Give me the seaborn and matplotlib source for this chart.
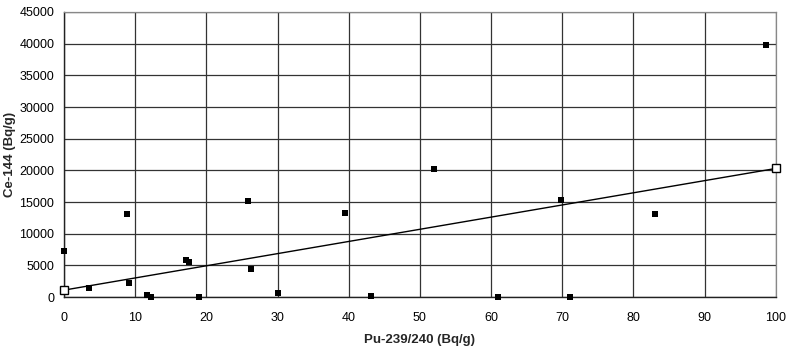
import matplotlib
matplotlib.use("Agg")
import matplotlib.pyplot as plt
import numpy as np
import pandas as pd
import seaborn as sns

# measured points
pu = [0, 3.5, 8.8, 9.1, 11.6, 12.2, 17.2, 17.6, 18.9, 25.8, 26.3, 30.0,
      39.5, 43.1, 52.0, 61.0, 69.8, 71.1, 83.0, 98.6]
ce = [7200, 1500, 13100, 2200, 350, 50, 5800, 5500, 50, 15200, 4500, 650,
      13300, 250, 20200, 0, 15400, 0, 13100, 39800]

# trend line end points
trend_x = [0, 100]
trend_y = [1100, 20300]

x_ticks = list(range(0, 101, 10))
y_ticks = list(range(0, 45001, 5000))

df = pd.DataFrame({"Pu": pu, "Ce": ce})
trend = pd.DataFrame({"Pu": trend_x, "Ce": trend_y})

sns.set_style("white")
plt.rcParams["font.family"] = ["Liberation Sans", "DejaVu Sans"]

fig = plt.figure(figsize=(7.9, 3.52), dpi=100)
ax = fig.add_axes([0.081, 0.156, 0.901, 0.81])

sns.lineplot(x="Pu", y="Ce", data=trend, ax=ax, color="black", linewidth=1.0,
             marker="s", markersize=5.5, markerfacecolor="white",
             markeredgecolor="black", markeredgewidth=1.0, zorder=3,
             clip_on=False)
sns.scatterplot(x="Pu", y="Ce", data=df, ax=ax, marker="s", s=18,
                color="black", edgecolor="black", linewidth=0, zorder=4,
                clip_on=False)

ax.set_xlim(0, 100)
ax.set_ylim(0, 45000)
ax.set_xticks(x_ticks)
ax.set_yticks(y_ticks)
ax.grid(True, color="#333333", linewidth=0.9)
ax.set_axisbelow(True)

for side in ["top", "right"]:
    ax.spines[side].set_color("#888888")
    ax.spines[side].set_linewidth(0.9)
for side in ["left", "bottom"]:
    ax.spines[side].set_color("#222222")
    ax.spines[side].set_linewidth(1.0)

ax.tick_params(axis="both", direction="out", length=3, width=0.8,
               labelsize=9, colors="black", pad=4)
ax.tick_params(axis="x", pad=8)
ax.set_xlabel("Pu-239/240 (Bq/g)", fontsize=9.5, fontweight="bold")
ax.set_ylabel("Ce-144 (Bq/g)", fontsize=9.5, fontweight="bold")
ax.xaxis.set_label_coords(0.5, -0.13)
ax.yaxis.set_label_coords(-0.067, 0.5)

fig.savefig("out.png", dpi=100)
